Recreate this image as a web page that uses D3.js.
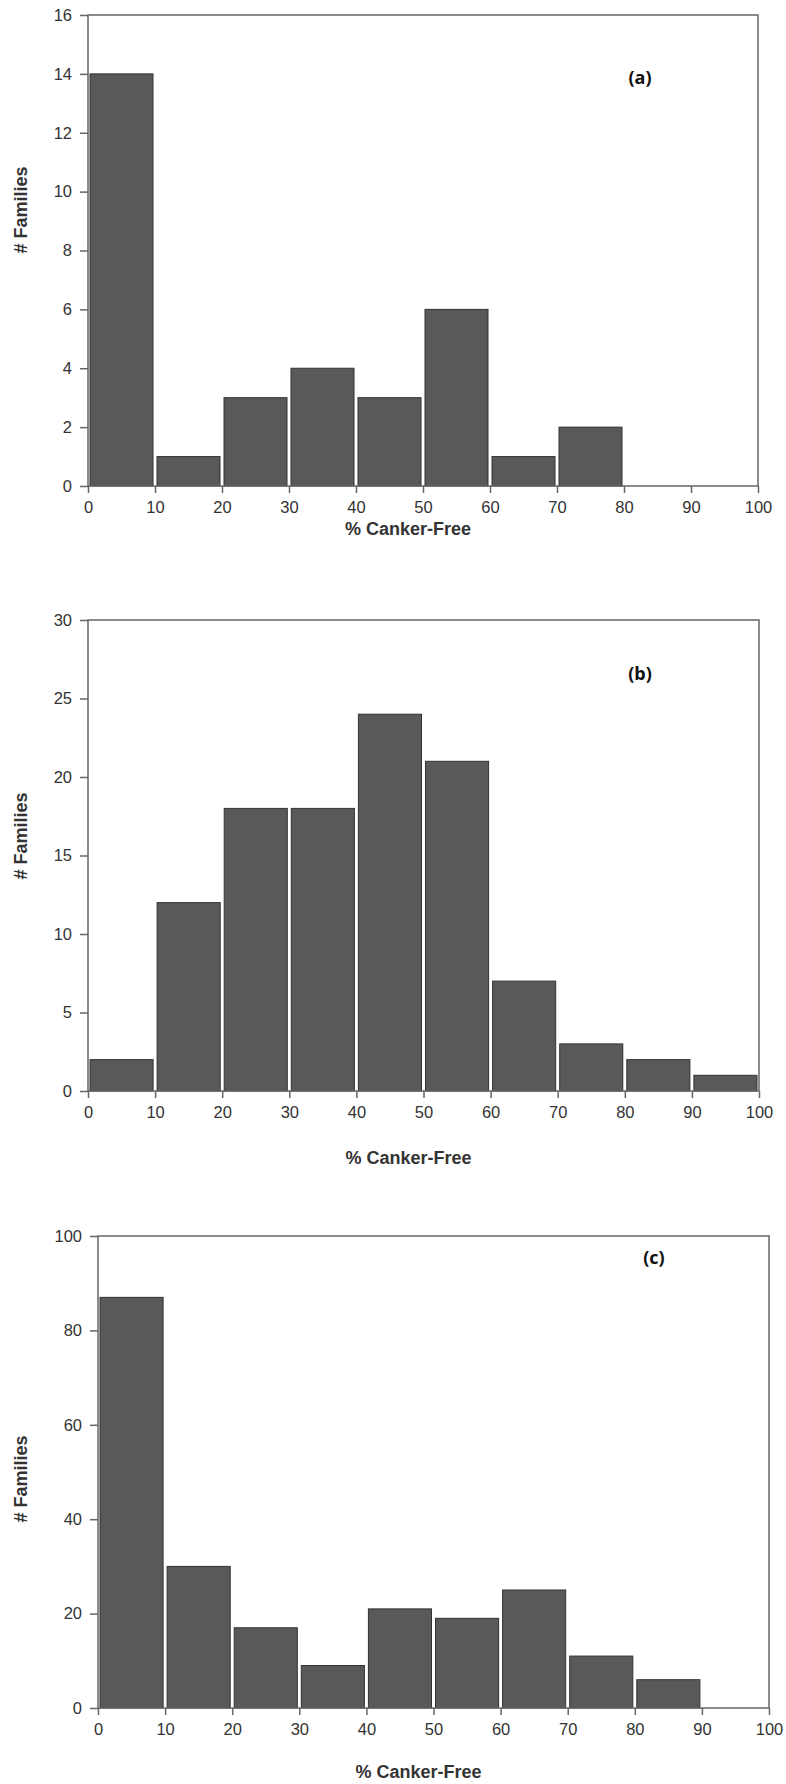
<!DOCTYPE html>
<html><head><meta charset="utf-8">
<script src="https://cdn.jsdelivr.net/npm/d3@7"></script>
<style>body{margin:0;background:#fff}</style>
</head><body>
<svg id="c" width="786" height="1784"></svg>
<script>
const binStarts = [0,10,20,30,40,50,60,70,80,90];
const xTicks = [0,10,20,30,40,50,60,70,80,90,100];
const countsA = [14,1,3,4,3,6,1,2,0,0];
const countsB = [2,12,18,18,24,21,7,3,2,1];
const countsC = [87,30,17,9,21,19,25,11,6,0];
const yTicksA = [0,2,4,6,8,10,12,14,16];
const yTicksB = [0,5,10,15,20,25,30];
const yTicksC = [0,20,40,60,80,100];
const panelLabels = ["(a)","(b)","(c)"];

const panels = [
  {counts:countsA, ticks:yTicksA, max:16, left:88, right:758, top:15, bottom:486, titleY:535, yTitleY:210, tag:panelLabels[0], tagX:640, tagY:84},
  {counts:countsB, ticks:yTicksB, max:30, left:88, right:759, top:620, bottom:1091, titleY:1164, yTitleY:836, tag:panelLabels[1], tagX:640, tagY:680},
  {counts:countsC, ticks:yTicksC, max:100, left:98, right:769, top:1236, bottom:1708, titleY:1778, yTitleY:1479, tag:panelLabels[2], tagX:654, tagY:1264}
];
const svg = d3.select("#c");
const axisCol = "#666";
panels.forEach(p => {
  const x = d3.scaleLinear().domain([0,100]).range([p.left,p.right]);
  const y = d3.scaleLinear().domain([0,p.max]).range([p.bottom,p.top]);
  const g = svg.append("g");
  g.selectAll("rect.bar").data(binStarts.map((s,i)=>({s,v:p.counts[i]})).filter(d=>d.v>0))
    .enter().append("rect")
    .attr("x", d=>x(d.s)+2).attr("width", d=>x(d.s+10)-x(d.s)-4)
    .attr("y", d=>y(d.v)).attr("height", d=>y(0)-y(d.v))
    .attr("fill","#595959").attr("stroke","#333").attr("stroke-width",1);
  g.append("rect").attr("x",p.left).attr("y",p.top).attr("width",p.right-p.left).attr("height",p.bottom-p.top)
    .attr("fill","none").attr("stroke",axisCol).attr("stroke-width",1.5);
  const ya = g.append("g").attr("transform",`translate(${p.left},0)`)
    .call(d3.axisLeft(y).tickValues(p.ticks).tickSize(8).tickPadding(8).tickFormat(d3.format("d")));
  ya.select(".domain").remove();
  ya.selectAll("line").attr("stroke",axisCol).attr("stroke-width",1.5);
  ya.selectAll("text").attr("font-family","Liberation Sans, Arial, sans-serif").attr("font-size",16.5).attr("fill","#333");
  const xa = g.append("g").attr("transform",`translate(0,${p.bottom})`)
    .call(d3.axisBottom(x).tickValues(xTicks).tickSize(7).tickPadding(8).tickFormat(d3.format("d")));
  xa.select(".domain").remove();
  xa.selectAll("line").attr("stroke",axisCol).attr("stroke-width",1.5);
  xa.selectAll("text").attr("font-family","Liberation Sans, Arial, sans-serif").attr("font-size",16.5).attr("fill","#333");
  svg.append("text").attr("x",(p.left+p.right)/2 - 15).attr("y",p.titleY)
    .attr("text-anchor","middle").attr("font-family","Liberation Sans, Arial, sans-serif")
    .attr("font-weight","bold").attr("font-size",18).attr("fill","#333").text("% Canker-Free");
  svg.append("text").attr("transform",`translate(27,${p.yTitleY}) rotate(-90)`)
    .attr("text-anchor","middle").attr("font-family","Liberation Sans, Arial, sans-serif")
    .attr("font-weight","bold").attr("font-size",18).attr("fill","#333").text("# Families");
  svg.append("text").attr("x",p.tagX).attr("y",p.tagY).attr("text-anchor","middle")
    .attr("font-family","Open Sans, sans-serif").attr("font-weight","bold").attr("font-size",18).attr("fill","#111").text(p.tag);
});
</script>
</body></html>
